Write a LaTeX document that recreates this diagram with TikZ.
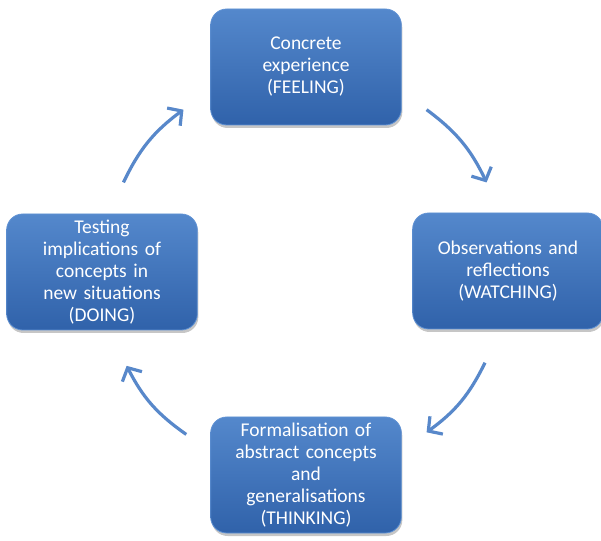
\documentclass[tikz,border=0pt]{standalone}
\usepackage{fontspec}
\setmainfont{Carlito}
\usetikzlibrary{arrows.meta,shadows}

\definecolor{boxtop}{RGB}{84,136,204}
\definecolor{boxbot}{RGB}{48,98,170}
\definecolor{boxline}{RGB}{96,146,212}
\definecolor{arrowblue}{RGB}{88,136,202}

\tikzset{
  stage/.style={draw=boxline, line width=0.8pt, rounded corners=16pt,
    top color=boxtop, bottom color=boxbot, text=white,
    minimum width=188pt, minimum height=116pt, text width=184pt, align=center,
    font=\fontsize{19.5}{22}\selectfont,
    drop shadow={shadow xshift=1pt, shadow yshift=-3pt, opacity=0.45}},
  turn/.style={draw=arrowblue, line width=3.2pt, bend left=14,
    -{Straight Barb[length=10pt, width=22pt, line width=3.2pt]}}
}

\begin{document}
\begin{tikzpicture}[x=1pt, y=1pt]
      \useasboundingbox (0,0) rectangle (601,540);

      \node[stage, name=feel] at (306,473) {Concrete\\experience\\(FEELING)};
      \node[stage, name=watch] at (508,269) {Observations and\\reflections\\(WATCHING)};
      \node[stage, name=think] at (306,65) {Formalisation of\\abstract concepts\\and\\generalisations\\(THINKING)};
      \node[stage, name=doing] at (102,268) {Testing\\implications of\\concepts in\\new situations\\(DOING)};

      % arrow ends on a circle round the middle
      \coordinate (mid) at (305,269);
      \coordinate (fw1) at ([shift={(53:202)}]mid);
      \coordinate (fw2) at ([shift={(26:202)}]mid);
      \coordinate (wt1) at ([shift={(-27:202)}]mid);
      \coordinate (wt2) at ([shift={(-53:202)}]mid);
      \coordinate (td1) at ([shift={(-126:202)}]mid);
      \coordinate (td2) at ([shift={(-152:202)}]mid);
      \coordinate (df1) at ([shift={(154:202)}]mid);
      \coordinate (df2) at ([shift={(127:202)}]mid);

      \path
         (fw1) edge[turn] (fw2)
         (wt1) edge[turn] (wt2)
         (td1) edge[turn] (td2)
         (df1) edge[turn] (df2);
   \end{tikzpicture}
\end{document}
